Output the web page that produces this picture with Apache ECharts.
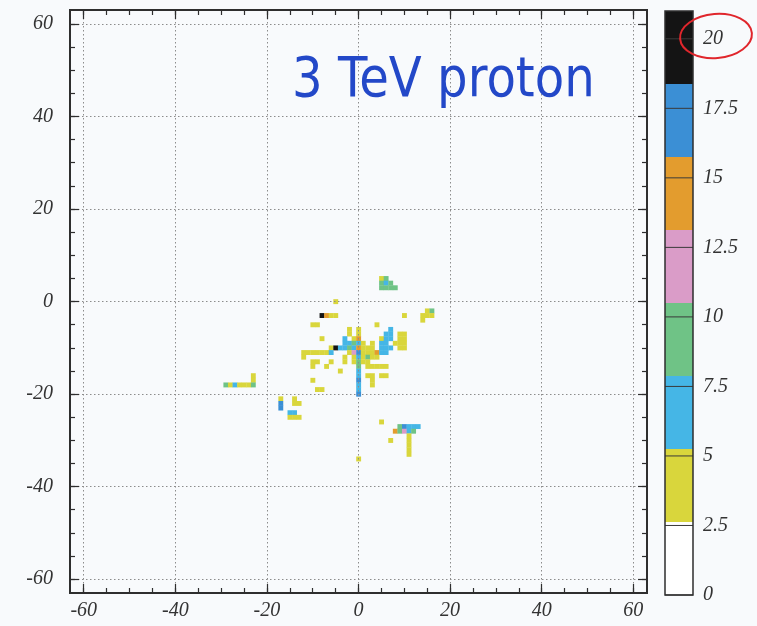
<!DOCTYPE html>
<html>
<head>
<meta charset="utf-8">
<script src="https://cdn.jsdelivr.net/npm/echarts@6/dist/echarts.min.js"></script>
<style>
  html, body { margin: 0; padding: 0; background: #f8fafc; }
  #chart { width: 757px; height: 626px; }
</style>
</head>
<body>
<div id="chart"></div>
<script>
// Axis ticks of the hit map (cell units) and of the energy scale
const majorTicks = [-60, -40, -20, 0, 20, 40, 60];
const minorTicks = [-60, -55, -50, -45, -40, -35, -30, -25, -20, -15, -10, -5, 0,
                    5, 10, 15, 20, 25, 30, 35, 40, 45, 50, 55, 60];
const scaleTicks = [0, 2.5, 5, 7.5, 10, 12.5, 15, 17.5, 20];

// Contour levels of the energy palette and their colours
const levels = [0, 2.625, 5.25, 7.875, 10.5, 13.125, 15.75, 18.375, 21];
const levelColors = ['#ffffff', '#d9d63c', '#45b6e6', '#6fc386', '#da9cc8',
                     '#e39c2e', '#3b8fd5', '#141414'];

// Hit cells: [x, y, deposit]
const coreHits = [
  [-5, 0, 4.2],
  [-8, -3, 20], [-7, -3, 14.2], [-6, -3, 4.3], [-5, -3, 4],
  [-10, -5, 4], [-9, -5, 4.4], [4, -5, 4], [10, -3, 4],
  [-2, -6, 4], [0, -6, 4.5], [7, -6, 6.5],
  [-2, -7, 4], [0, -7, 4.2], [6, -7, 6.8], [7, -7, 6.5], [9, -7, 4], [10, -7, 4.3],
  [-8, -8, 4], [-3, -8, 6.8], [-1, -8, 4], [0, -8, 14], [5, -8, 4], [6, -8, 6.5],
  [7, -8, 6.8], [9, -8, 4], [10, -8, 4],
  [-3, -9, 7], [-2, -9, 6], [-1, -9, 9], [0, -9, 6.5], [1, -9, 4], [3, -9, 4],
  [5, -9, 6.5], [6, -9, 7], [8, -9, 4], [9, -9, 4], [10, -9, 4.2],
  [-6, -10, 4.5], [-5, -10, 20], [-4, -10, 6.5], [-3, -10, 6.8], [-2, -10, 8.5],
  [-1, -10, 6.8], [0, -10, 14.5], [1, -10, 4], [2, -10, 4], [3, -10, 4.2],
  [5, -10, 6.5], [6, -10, 6.8], [7, -10, 6.5], [9, -10, 4], [10, -10, 4],
  [-12, -11, 4], [-11, -11, 4.5], [-10, -11, 4], [-9, -11, 4.2], [-8, -11, 4],
  [-7, -11, 4], [-6, -11, 6.2], [-2, -11, 4], [-1, -11, 12], [0, -11, 17],
  [1, -11, 4], [2, -11, 4.2], [3, -11, 4], [4, -11, 14], [5, -11, 6.5], [6, -11, 6.8],
  [-12, -12, 4], [-3, -12, 4], [-1, -12, 4], [0, -12, 7], [1, -12, 4], [2, -12, 8.5],
  [3, -12, 4.2], [4, -12, 4],
  [-10, -13, 4], [-9, -13, 4.2], [-6, -13, 4], [-3, -13, 4], [-1, -13, 4], [0, -13, 9],
  [1, -13, 4], [2, -13, 4],
  [-10, -14, 4], [-7, -14, 4], [0, -14, 8.5], [2, -14, 4], [3, -14, 4], [4, -14, 4.3],
  [5, -14, 4], [6, -14, 4],
  [-4, -15, 4], [0, -15, 7],
  [0, -16, 6.5], [2, -16, 4], [3, -16, 4], [5, -16, 4], [6, -16, 4.2],
  [-10, -17, 4], [0, -17, 17], [3, -17, 4],
  [0, -18, 7], [3, -18, 4],
  [-9, -19, 4], [-8, -19, 4], [0, -19, 6],
  [0, -20, 16.5]
];
const northHits = [
  [5, 5, 4.5], [6, 5, 9], [5, 4, 9], [6, 4, 7.5], [7, 4, 9],
  [5, 3, 9.5], [6, 3, 8.5], [7, 3, 9], [8, 3, 8.5]
];
const eastHits = [
  [15, -2, 4.5], [16, -2, 8.5], [14, -3, 4], [15, -3, 4.2], [16, -3, 4], [14, -4, 4]
];
const westHits = [
  [-23, -16, 4], [-23, -17, 4.2], [-29, -18, 8], [-28, -18, 4.5], [-27, -18, 6],
  [-26, -18, 4], [-25, -18, 4], [-24, -18, 4], [-23, -18, 8.5]
];
const southWestHits = [
  [-17, -21, 4], [-17, -22, 17], [-17, -23, 16], [-14, -21, 4], [-14, -22, 4],
  [-13, -22, 4], [-15, -24, 6], [-14, -24, 7], [-15, -25, 4], [-14, -25, 4.5], [-13, -25, 4]
];
const southEastHits = [
  [5, -26, 4], [9, -27, 8], [10, -27, 16.5], [11, -27, 7], [12, -27, 6.5], [13, -27, 6],
  [8, -28, 14], [9, -28, 9], [10, -28, 12], [11, -28, 7], [12, -28, 8],
  [7, -30, 4], [11, -29, 4], [11, -30, 4], [11, -31, 4.2], [11, -32, 4], [11, -33, 4],
  [0, -34, 4]
];

const hits = [].concat(coreHits, northHits, eastHits, westHits, southWestHits, southEastHits);
const bands = levelColors.map((c, i) => [levels[i], levels[i + 1], i]);

const labelFont = {
  fontFamily: 'Liberation Serif', fontStyle: 'italic', fontSize: 20, color: '#333333'
};
const frameLine = { show: true, onZero: false, lineStyle: { color: '#2e2e2e', width: 2 } };
const tickStyle = { color: '#2e2e2e', width: 1.2 };

function mapAxis(gridIndex, position, ticks, len, withLabels, withGrid) {
  return {
    type: 'value', gridIndex, position, min: -63, max: 63, z: 10,
    axisLine: frameLine,
    axisTick: { show: true, inside: true, length: len, customValues: ticks, lineStyle: tickStyle },
    axisLabel: withLabels
      ? Object.assign({ show: true, customValues: majorTicks, margin: position === 'left' ? 17 : 8 }, labelFont)
      : { show: false },
    splitLine: withGrid
      ? { show: true, lineStyle: { color: '#8c8c8c', type: [1.5, 2.5], width: 1 } }
      : { show: false }
  };
}

const plotRect = { left: 70, top: 10, width: 577, height: 583 };

const option = {
  backgroundColor: '#f8fafc',
  animation: false,
  grid: [
    Object.assign({}, plotRect),
    Object.assign({}, plotRect),
    { left: 665, top: 11, width: 28, height: 584, show: true, borderColor: '#2e2e2e', borderWidth: 1.5, backgroundColor: 'transparent', z: 10 }
  ],
  xAxis: [
    mapAxis(0, 'bottom', majorTicks, 9, true, true),
    mapAxis(0, 'top', minorTicks, 5, false, false),
    mapAxis(1, 'bottom', minorTicks, 5, false, false),
    mapAxis(1, 'top', majorTicks, 9, false, false),
    { type: 'value', gridIndex: 2, min: 0, max: 1, show: false }
  ],
  yAxis: [
    mapAxis(0, 'left', majorTicks, 9, true, true),
    mapAxis(0, 'right', minorTicks, 5, false, false),
    mapAxis(1, 'left', minorTicks, 5, false, false),
    mapAxis(1, 'right', majorTicks, 9, false, false),
    {
      type: 'value', gridIndex: 2, position: 'right', min: 0, max: 21,
      axisLine: { show: false },
      axisTick: { show: false },
      axisLabel: Object.assign({ show: true, customValues: scaleTicks, margin: 10, formatter: v => String(v) }, labelFont),
      splitLine: { show: false }
    }
  ],
  visualMap: {
    type: 'piecewise', show: false, seriesIndex: 0, dimension: 2,
    pieces: levelColors.map((c, i) => ({ gte: levels[i], lt: levels[i + 1], color: c }))
  },
  series: [
    {
      type: 'custom', xAxisIndex: 0, yAxisIndex: 0, data: hits,
      encode: { x: 0, y: 1 },
      renderItem: function (params, api) {
        const corner = api.coord([api.value(0) - 0.5, api.value(1) + 0.5]);
        const size = api.size([1, 1]);
        return {
          type: 'rect',
          shape: { x: corner[0], y: corner[1], width: size[0] + 0.3, height: size[1] + 0.3 },
          style: { fill: api.visual('color') }
        };
      }
    },
    {
      // palette bands of the energy scale
      type: 'custom', xAxisIndex: 4, yAxisIndex: 4, data: bands,
      renderItem: function (params, api) {
        const lo = api.coord([0, api.value(0)]);
        const hi = api.coord([1, api.value(1)]);
        return {
          type: 'rect',
          shape: { x: lo[0], y: hi[1], width: hi[0] - lo[0], height: lo[1] - hi[1] },
          style: { fill: levelColors[api.value(2)] }
        };
      }
    },
    {
      // tick lines across the energy scale
      type: 'custom', xAxisIndex: 4, yAxisIndex: 4, z: 5,
      data: scaleTicks.map(v => [v]),
      encode: { y: 0 },
      renderItem: function (params, api) {
        const a = api.coord([0, api.value(0)]);
        const b = api.coord([1, api.value(0)]);
        return {
          type: 'line',
          shape: { x1: a[0], y1: a[1], x2: b[0], y2: b[1] },
          style: { stroke: '#3a3a3a', lineWidth: 1 }
        };
      }
    }
  ],
  graphic: [
    {
      type: 'text', left: 292, top: 53, scaleX: 0.86, z: 20,
      style: {
        text: '3 TeV proton', fill: '#2348c8',
        font: 'normal 56px "DejaVu Sans"'
      }
    },
    {
      type: 'ellipse', z: 20, rotation: 0.08, x: 716, y: 36,
      shape: { cx: 0, cy: 0, rx: 36, ry: 22 },
      style: { fill: 'none', stroke: '#e0262c', lineWidth: 2 }
    }
  ]
};

const chart = echarts.init(document.getElementById('chart'), null, { renderer: 'canvas' });
chart.setOption(option);
</script>
</body>
</html>
